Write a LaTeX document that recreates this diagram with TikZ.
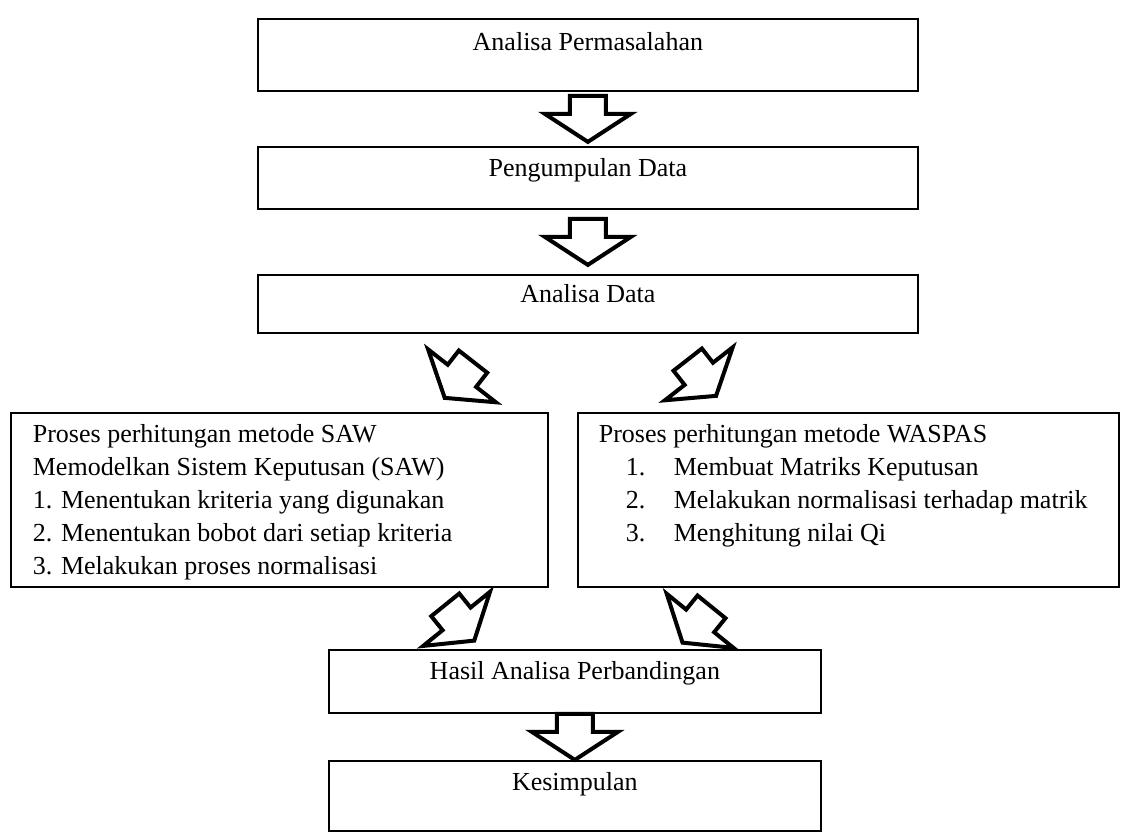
\documentclass[tikz,border=0pt]{standalone}
\usepackage{fontspec}
\setmainfont{Liberation Serif}
\usetikzlibrary{calc}
\newlength\pxu
\setlength\pxu{0.75pt}
\newcommand\bx[4]{\parbox[c][#2\pxu][t]{#1\pxu}{\vspace*{#3\pxu}#4}}
\begin{document}
\begin{tikzpicture}[x=0.75pt,y=-0.75pt,
  box/.style={draw=black, line width=1.3pt, inner sep=0pt, anchor=north west,
    font=\fontsize{19.5pt}{24.75pt}\selectfont},
  arrowline/.style={draw=black, line width=3pt, fill=white, line join=miter},
  barrow/.pic={\path[arrowline] (-18,-23) -- (18,-23) -- (18,-5) -- (43,-5) -- (0,23) -- (-43,-5) -- (-18,-5) -- cycle;}
]
\useasboundingbox (0,0) rectangle (1130,833);

\node[box] (b1) at (257,18) {\bx{660}{72}{14}{\centering Analisa Permasalahan}};
\node[box] (b2) at (257,146) {\bx{660}{62}{12}{\centering Pengumpulan Data}};
\node[box] (b3) at (257,274) {\bx{660}{58}{10}{\centering Analisa Data}};

\node[box] (saw) at (10,412) {\bx{537}{174}{12}{\raggedright\leftskip=22\pxu
Proses perhitungan metode SAW\par
Memodelkan Sistem Keputusan (SAW)\par
1. Menentukan kriteria yang digunakan\par
2. Menentukan bobot dari setiap kriteria\par
3. Melakukan proses normalisasi}};

\node[box] (wsp) at (577,412) {\bx{541}{174}{12}{\raggedright\leftskip=21\pxu
Proses perhitungan metode WASPAS\par
\hspace*{27\pxu}\makebox[48\pxu][l]{1.}Membuat Matriks Keputusan\par
\hspace*{27\pxu}\makebox[48\pxu][l]{2.}Melakukan normalisasi terhadap matrik\par
\hspace*{27\pxu}\makebox[48\pxu][l]{3.}Menghitung nilai Qi}};

\node[box] (hasil) at (328,649) {\bx{492}{63}{12}{\centering Hasil Analisa Perbandingan}};
\node[box] (kes) at (328,760) {\bx{492}{70}{12}{\centering Kesimpulan}};

\pic at ($(b1.south)!0.5!(b2.north)$) {barrow};
\pic at ($(b2.south)!0.5!(b3.north)$) {barrow};
\pic[rotate=-38] at ($(b3.south)+(-129,46)$) {barrow};
\pic[rotate=38] at ($(b3.south)+(114,44)$) {barrow};
\pic[rotate=39] at ($(saw.south east)+(-89,35)$) {barrow};
\pic[rotate=-39] at ($(wsp.south west)+(120,37)$) {barrow};
\pic at ($(hasil.south)!0.5!(kes.north)$) {barrow};
\end{tikzpicture}
\end{document}
